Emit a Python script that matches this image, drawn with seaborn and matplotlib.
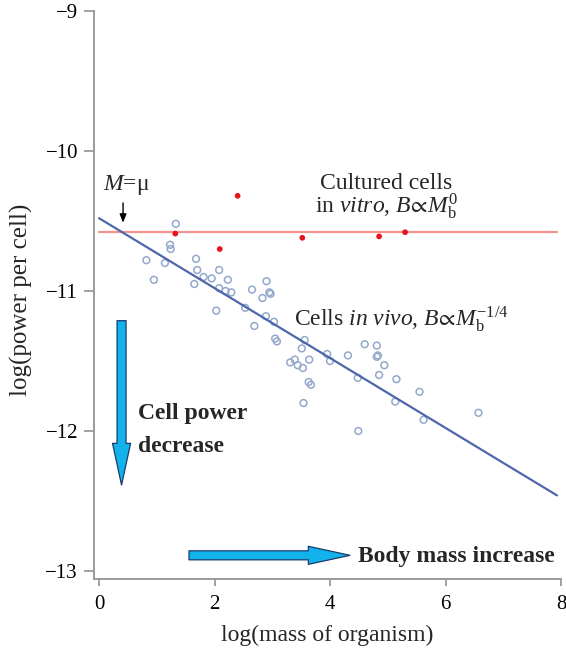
import matplotlib
matplotlib.use('Agg')
import matplotlib.pyplot as plt
import seaborn as sns
import pandas as pd

# ---- data ----
vivo_mass = [1.33, 1.23, 1.24, 0.82, 1.14, 0.95, 1.68, 1.70, 2.08, 1.65,
             1.81, 1.95, 2.23, 2.08, 2.19, 2.29, 2.65, 2.03, 2.53, 2.69,
             2.90, 2.95, 2.97, 2.83, 2.89, 3.03, 3.05, 3.08, 3.56, 3.51,
             3.95, 4.00, 4.31, 4.60, 4.81, 4.83, 4.81, 4.94, 4.85, 5.15,
             3.31, 3.39, 3.44, 3.53, 3.64, 3.63, 3.67, 3.54, 4.48, 5.55,
             6.57, 5.62, 5.13, 4.49]
vivo_power = [-10.52, -10.67, -10.70, -10.78, -10.80, -10.92, -10.77, -10.85, -10.85, -10.95,
              -10.90, -10.91, -10.92, -10.98, -11.00, -11.01, -10.99, -11.14, -11.12, -11.25,
              -10.93, -11.01, -11.02, -11.05, -11.18, -11.22, -11.34, -11.36, -11.35, -11.41,
              -11.45, -11.50, -11.46, -11.38, -11.39, -11.46, -11.47, -11.53, -11.60, -11.63,
              -11.51, -11.49, -11.53, -11.55, -11.49, -11.65, -11.67, -11.80, -11.62, -11.72,
              -11.87, -11.92, -11.79, -12.00]
vitro_mass = [1.32, 2.40, 2.09, 3.52, 4.85, 5.30]
vitro_power = [-10.59, -10.32, -10.70, -10.62, -10.61, -10.58]
fit_mass = [0.0, 7.93]
fit_power = [-10.48, -12.46]
level_mass = [0.0, 7.93]
level_power = [-10.58, -10.58]
x_ticks = [0, 2, 4, 6, 8]
y_ticks = [-13, -12, -11, -10, -9]

vivo = pd.DataFrame({'mass': vivo_mass, 'power': vivo_power})
vitro = pd.DataFrame({'mass': vitro_mass, 'power': vitro_power})

sns.set_theme(style='white')
plt.rcParams['font.family'] = ['Liberation Serif', 'DejaVu Serif']
plt.rcParams['mathtext.fontset'] = 'custom'
plt.rcParams['mathtext.rm'] = 'Liberation Serif'
plt.rcParams['mathtext.it'] = 'Liberation Serif:italic'
plt.rcParams['mathtext.bf'] = 'Liberation Serif:bold'
plt.rcParams['mathtext.fallback'] = 'stix'
plt.rcParams['axes.unicode_minus'] = True

fig = plt.figure(figsize=(5.66, 6.52), dpi=100)
ax = fig.add_axes([0.1661, 0.1120, 0.8251, 0.8711])

sns.lineplot(x=level_mass, y=level_power, color='#F4928E', lw=1.6, ax=ax)
sns.lineplot(x=fit_mass, y=fit_power, color='#4E67AA', lw=1.6, ax=ax)
sns.scatterplot(data=vivo, x='mass', y='power', marker='o', s=24,
                facecolors='none', edgecolor='#93A8CC', linewidth=1.1, ax=ax)
sns.scatterplot(data=vitro, x='mass', y='power', marker='o', s=17,
                color='#E8141C', edgecolor='none', ax=ax, zorder=5)

ax.set_xlim(-0.087, 8.0)
ax.set_ylim(-13.057, -9.0)
ax.set_xticks(x_ticks)
ax.set_yticks(y_ticks)
ax.set_xlabel('log(mass of organism)', fontsize=17, labelpad=8)
ax.set_ylabel('log(power per cell)', fontsize=18)
ax.yaxis.set_label_coords(-0.1306, 0.491)
for side in ['top', 'right']:
    ax.spines[side].set_visible(False)
for side in ['left', 'bottom']:
    ax.spines[side].set_color('#9A9A9A')
    ax.spines[side].set_linewidth(1.4)
ax.tick_params(axis='both', direction='out', width=1.3,
               color='#9A9A9A', labelsize=15, labelcolor='black')
ax.tick_params(axis='y', length=7, pad=4.5)
ax.tick_params(axis='x', length=5, pad=6.5)
ax.tick_params(left=True, bottom=True)

# annotations
ax.text(0.069, -10.279, r'$M$=μ', fontsize=17, ha='left', va='baseline')
ax.annotate('', xy=(0.416, -10.512), xytext=(0.416, -10.371),
            arrowprops=dict(arrowstyle='-|>,head_length=0.5,head_width=0.2',
                            color='black', lw=1.0, shrinkA=0, shrinkB=0,
                            mutation_scale=10))
ax.text(4.98, -10.445,
        'Cultured cells\n' + r'in $vitro$, $B\!\propto\!M_{\mathrm{b}}^{0}$',
        fontsize=17, ha='center', va='baseline', multialignment='center',
        linespacing=0.88)
ax.text(3.377, -11.25, r'Cells $in\ vivo$, $B\!\propto\!M_{\mathrm{b}}^{-1/4}$',
        fontsize=17, ha='left', va='baseline')
ax.text(0.675, -11.916, 'Cell power', fontsize=17, fontweight='bold',
        ha='left', va='baseline')
ax.text(0.675, -12.148, 'decrease', fontsize=17, fontweight='bold',
        ha='left', va='baseline')
ax.text(4.485, -12.938, 'Body mass increase', fontsize=17, fontweight='bold',
        ha='left', va='baseline')

big = dict(arrowstyle='simple,head_length=3.0,head_width=1.3,tail_width=0.65',
           fc='#12B2EC', ec='#1B3A6B', lw=0.9, shrinkA=0, shrinkB=0,
           mutation_scale=10)
ax.annotate('', xy=(0.39, -12.386), xytext=(0.39, -11.212), arrowprops=big)
ax.annotate('', xy=(4.346, -12.888), xytext=(1.558, -12.888), arrowprops=big)

fig.savefig('out.png', dpi=100)
